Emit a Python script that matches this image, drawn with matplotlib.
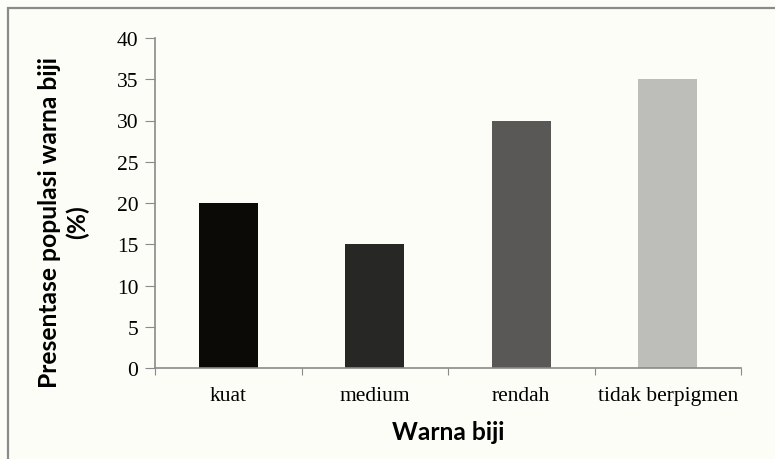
import matplotlib.pyplot as plt
from matplotlib.patches import Rectangle

# persentase populasi per kelas warna biji
kategori = ['kuat', 'medium', 'rendah', 'tidak berpigmen']
persen = [20, 15, 30, 35]
warna = ['#0b0a06', '#272826', '#595856', '#bdbdb9']
yticks = [0, 5, 10, 15, 20, 25, 30, 35, 40]

bg = '#fdfdf8'
axis_col = '#8a8a8a'

fig = plt.figure(figsize=(7.75, 4.6), dpi=100, facecolor=bg)
# frame around chart area (runs past right/bottom edge)
fig.patches.append(Rectangle((8 / 775, -0.05), 1.2, 1 - 9 / 460 + 0.05,
                             transform=fig.transFigure, fill=False,
                             edgecolor=axis_col, lw=1.6))

ax = fig.add_axes([155 / 775, 1 - 369 / 460, (741 - 155) / 775, (369 - 39) / 460])
ax.set_facecolor('none')

x = range(len(kategori))
ax.bar(x, persen, width=0.4, color=warna)

ax.set_xlim(-0.5, len(kategori) - 0.5)
ax.set_ylim(0, 40)
ax.set_yticks(yticks)
ax.set_yticklabels([str(v) for v in yticks], family='Liberation Serif', fontsize=15.5)

# category boundaries carry the ticks, labels sit in the middle
ax.set_xticks([i - 0.5 for i in range(len(kategori) + 1)])
ax.set_xticklabels([])
ax.set_xticks(list(x), minor=True)
ax.set_xticklabels(kategori, minor=True, family='Liberation Serif', fontsize=15.5)
ax.tick_params(axis='x', which='minor', length=0, pad=13)
ax.tick_params(axis='x', which='major', length=5, color=axis_col, direction='out')
ax.tick_params(axis='y', length=7, color=axis_col, pad=5)

for s in ['top', 'right']:
    ax.spines[s].set_visible(False)
for s in ['left', 'bottom']:
    ax.spines[s].set_color(axis_col)
    ax.spines[s].set_linewidth(1.2)

ax.set_xlabel('Warna biji', family='Lato', fontweight='bold', fontsize=17.7, labelpad=11)
ax.set_ylabel('Presentase populasi warna biji\n(%)', family='Lato',
              fontweight='bold', fontsize=17.7, linespacing=1.2)
ax.yaxis.set_label_coords(-0.113, 0.445)

fig.savefig('out.png', dpi=100, facecolor=bg)
